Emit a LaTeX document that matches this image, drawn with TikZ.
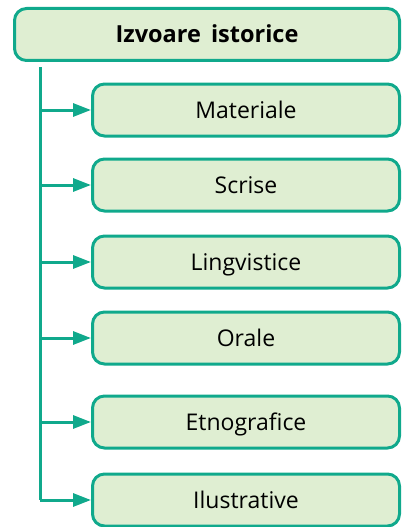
\documentclass[tikz,border=0pt]{standalone}
\usepackage{fontspec}
\setmainfont{Open Sans}
\usetikzlibrary{arrows.meta}
\definecolor{srcline}{HTML}{10A98C}
\definecolor{srcfill}{HTML}{DFEED2}

\begin{document}
\begin{tikzpicture}[x=1pt,y=-1pt,
    srcbox/.style={draw=srcline, fill=srcfill, line width=3pt, rounded corners=12pt,
      minimum height=52pt, inner sep=0pt, text height=20pt, text depth=3pt,
      font=\fontsize{23}{28}\selectfont},
    kindbox/.style={srcbox, minimum width=307pt},
    link/.style={draw=srcline, line width=3pt},
    toarrow/.style={link, -{Triangle[length=18pt,width=13pt]}}]
  \useasboundingbox (0,0) rectangle (402,527);
  \node[srcbox, minimum width=385pt, font=\fontsize{23.5}{28}\selectfont\bfseries] (root) at (207,34.5) {Izvoare\ \,istorice};
  \node[kindbox] (mat) at (246,110) {Materiale};
  \node[kindbox] (scr) at (246,185) {Scrise};
  \node[kindbox] (lin) at (246,262) {Lingvistice};
  \node[kindbox] (ora) at (246,338) {Orale};
  \node[kindbox] (etn) at (246,422) {Etnografice};
  \node[kindbox] (ilu) at (246,500) {Ilustrative};
  \coordinate (top) at (40,67);
  \coordinate (bot) at (40,500);
  \draw[link] (top) -- (bot);
  \foreach \k in {mat,scr,lin,ora,etn,ilu}
    \draw[toarrow] (top |- \k.west) -- (\k.west);
\end{tikzpicture}
\end{document}
